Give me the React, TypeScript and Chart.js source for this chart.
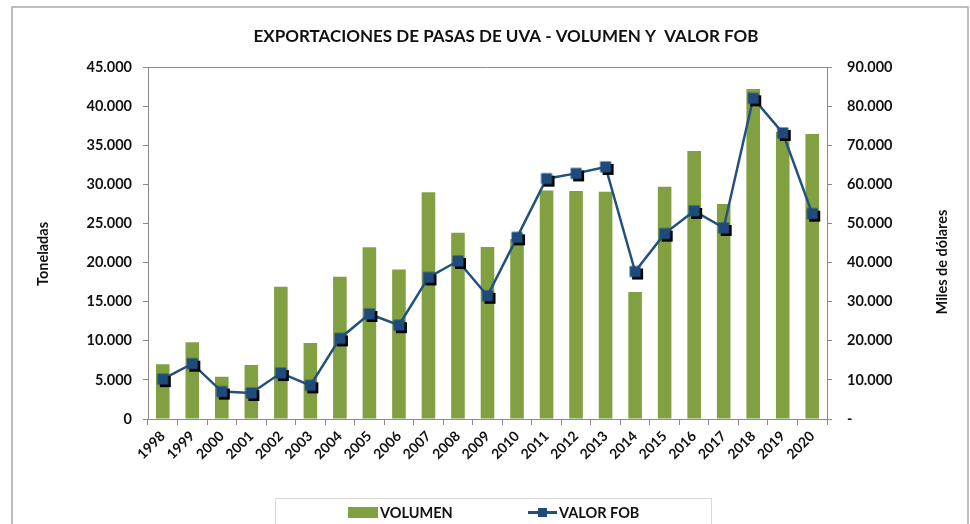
import React, { useEffect, useRef } from "react";
import { Chart, registerables } from "chart.js";

Chart.register(...registerables);

const TITLE = "EXPORTACIONES DE PASAS DE UVA - VOLUMEN Y  VALOR FOB";
const LEFT_TITLE = "Toneladas";
const RIGHT_TITLE = "Miles de dólares";

const YEARS = [
  "1998", "1999", "2000", "2001", "2002", "2003", "2004", "2005", "2006", "2007", "2008", "2009",
  "2010", "2011", "2012", "2013", "2014", "2015", "2016", "2017", "2018", "2019", "2020",
];

const VOLUMEN = [
  7000, 9800, 5400, 6900, 16900, 9700, 18200, 21950, 19100, 29000, 23800, 22000,
  23000, 29200, 29150, 29050, 16250, 29700, 34250, 27500, 42200, 36700, 36450,
];

const VALOR_FOB = [
  10200, 14150, 7000, 6650, 11750, 8600, 20600, 26850, 24000, 36200, 40400, 31500,
  46450, 61450, 62800, 64450, 37700, 47400, 53200, 48850, 82000, 73150, 52500,
];

const LEFT_TICKS = [0, 5000, 10000, 15000, 20000, 25000, 30000, 35000, 40000, 45000];
const RIGHT_TICKS = [0, 10000, 20000, 30000, 40000, 50000, 60000, 70000, 80000, 90000];

const FONT = "Lato, 'Open Sans', 'Liberation Sans', sans-serif";
const BAR_COLOR = "#80a042";
const LINE_COLOR = "#23517f";
const MARKER_COLOR = "#1f4b7c";
const AXIS_COLOR = "#8a8a8a";

function fmt(n: number): string {
  return String(Math.round(n)).replace(/\B(?=(\d{3})+(?!\d))/g, ".");
}

function makeMarker(): HTMLCanvasElement {
  const c = document.createElement("canvas");
  c.width = 22;
  c.height = 22;
  const ctx = c.getContext("2d")!;
  ctx.fillStyle = "#000";
  ctx.fillRect(8, 8, 11, 11);
  ctx.fillStyle = MARKER_COLOR;
  ctx.fillRect(5.5, 5.5, 11, 11);
  return c;
}

const decorPlugin = {
  id: "decor",
  afterDraw(chart: any) {
    const { ctx, chartArea } = chart;
    ctx.save();
    // outer frame
    ctx.strokeStyle = "#a9a9a9";
    ctx.lineWidth = 1.5;
    ctx.beginPath();
    ctx.moveTo(12, 530);
    ctx.lineTo(12, 7);
    ctx.lineTo(968, 7);
    ctx.lineTo(968, 530);
    ctx.stroke();

    // plot top border
    ctx.strokeStyle = AXIS_COLOR;
    ctx.lineWidth = 1;
    ctx.beginPath();
    ctx.moveTo(chartArea.left, Math.round(chartArea.top) + 0.5);
    ctx.lineTo(chartArea.right, Math.round(chartArea.top) + 0.5);
    ctx.stroke();

    // title
    ctx.fillStyle = "#111";
    ctx.font = `bold 17px ${FONT}`;
    ctx.textAlign = "center";
    ctx.textBaseline = "middle";
    ctx.fillText(TITLE, 506, 37);

    // axis titles
    ctx.font = `bold 14.5px ${FONT}`;
    ctx.save();
    ctx.translate(43, 254);
    ctx.rotate(-Math.PI / 2);
    ctx.fillText(LEFT_TITLE, 0, 0);
    ctx.restore();
    ctx.save();
    ctx.translate(942, 262);
    ctx.rotate(-Math.PI / 2);
    ctx.fillText(RIGHT_TITLE, 0, 0);
    ctx.restore();

    // legend
    ctx.strokeStyle = "#d9d9d9";
    ctx.lineWidth = 1;
    ctx.strokeRect(275.5, 498.5, 436, 40);
    const ds = chart.data.datasets;
    ctx.fillStyle = ds[1].backgroundColor;
    ctx.fillRect(348, 507, 30, 11);
    ctx.fillStyle = "#111";
    ctx.font = `bold 14.5px ${FONT}`;
    ctx.textAlign = "left";
    ctx.fillText(ds[1].label, 380, 513);
    ctx.strokeStyle = ds[0].borderColor;
    ctx.lineWidth = 3;
    ctx.beginPath();
    ctx.moveTo(528, 512.5);
    ctx.lineTo(557, 512.5);
    ctx.stroke();
    ctx.fillStyle = MARKER_COLOR;
    ctx.fillRect(538, 508, 9, 9);
    ctx.fillStyle = "#111";
    ctx.fillText(ds[0].label, 559, 513);
    ctx.restore();
  },
};

export default function App() {
  const ref = useRef<HTMLCanvasElement | null>(null);

  useEffect(() => {
    if (!ref.current) return;
    const marker = makeMarker();
    const chart = new Chart(ref.current, {
      type: "bar",
      data: {
        labels: YEARS,
        datasets: [
          {
            type: "line",
            label: "VALOR FOB",
            data: VALOR_FOB,
            yAxisID: "y2",
            borderColor: LINE_COLOR,
            borderWidth: 2.5,
            pointStyle: marker as any,
            pointRadius: 6,
            order: 0,
            tension: 0,
          } as any,
          {
            type: "bar",
            label: "VOLUMEN",
            data: VOLUMEN,
            yAxisID: "y",
            backgroundColor: BAR_COLOR,
            barPercentage: 0.46,
            categoryPercentage: 1,
            order: 1,
          },
        ],
      },
      options: {
        animation: false,
        responsive: false,
        layout: { padding: { top: 67, left: 0, right: 0, bottom: 0 } },
        plugins: {
          legend: { display: false },
          title: { display: false },
          tooltip: { enabled: false },
        },
        scales: {
          x: {
            grid: { drawOnChartArea: false, drawTicks: true, tickLength: 6, color: AXIS_COLOR, offset: true },
            border: { display: true, color: AXIS_COLOR },
            ticks: {
              color: "#111",
              font: { family: FONT, weight: "bold", size: 14 },
              maxRotation: 45,
              minRotation: 45,
              autoSkip: false,
              padding: 3,
            },
            afterFit: (s: any) => {
              s.height = 105;
            },
          },
          y: {
            position: "left",
            min: 0,
            max: 45000,
            afterBuildTicks: (s: any) => {
              s.ticks = LEFT_TICKS.map((v) => ({ value: v }));
            },
            grid: { drawOnChartArea: false, drawTicks: true, tickLength: 5, color: AXIS_COLOR },
            border: { display: true, color: AXIS_COLOR },
            ticks: {
              color: "#111",
              font: { family: FONT, weight: "bold", size: 14.5 },
              padding: 11,
              callback: (v: any) => fmt(Number(v)),
            },
            afterFit: (s: any) => {
              s.width = 148;
            },
          },
          y2: {
            position: "right",
            min: 0,
            max: 90000,
            afterBuildTicks: (s: any) => {
              s.ticks = RIGHT_TICKS.map((v) => ({ value: v }));
            },
            grid: { drawOnChartArea: false, drawTicks: true, tickLength: 5, color: AXIS_COLOR },
            border: { display: true, color: AXIS_COLOR },
            ticks: {
              color: "#111",
              font: { family: FONT, weight: "bold", size: 14.5 },
              padding: 15,
              callback: (v: any) => (Number(v) === 0 ? "-" : fmt(Number(v))),
            },
            afterFit: (s: any) => {
              s.width = 143;
            },
          },
        },
      },
      plugins: [decorPlugin],
    });
    return () => chart.destroy();
  }, []);

  return (
    <div style={{ position: "absolute", left: 0, top: 0, width: 970, height: 524, background: "#fff" }}>
      <canvas ref={ref} width={970} height={524} style={{ width: 970, height: 524, display: "block" }} />
    </div>
  );
}
